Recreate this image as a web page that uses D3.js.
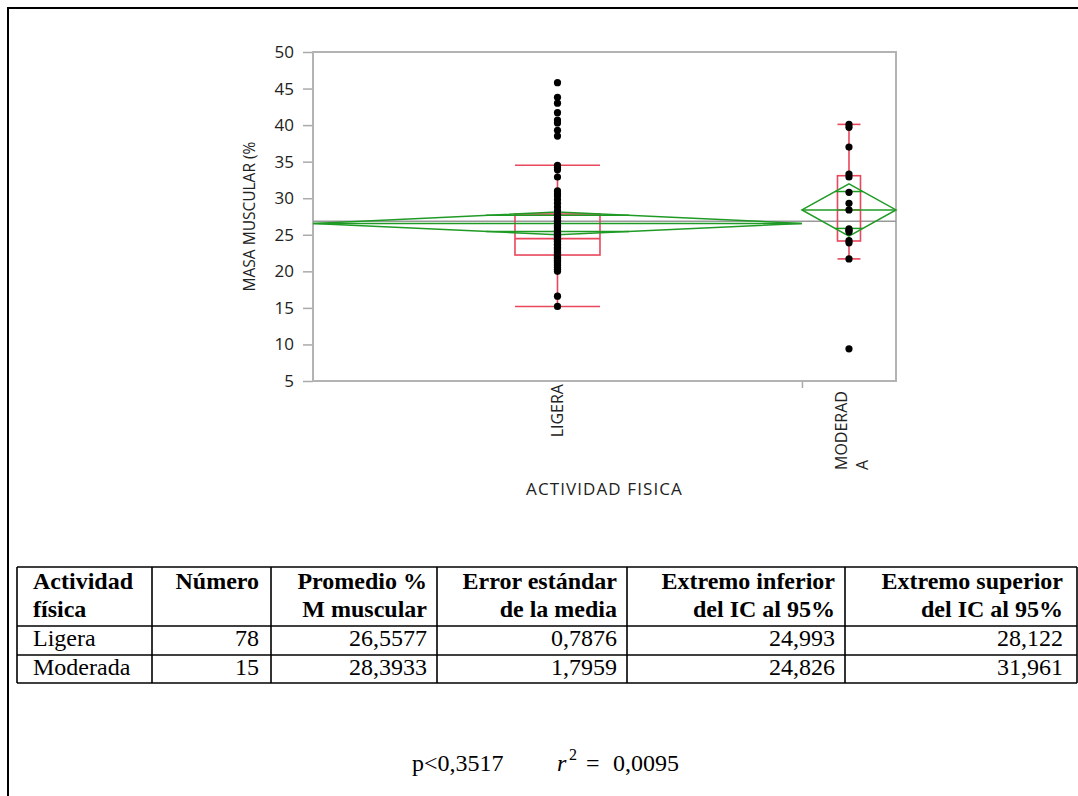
<!DOCTYPE html>
<html>
<head>
<meta charset="utf-8">
<script src="https://cdn.jsdelivr.net/npm/d3@7"></script>
<style>
  body { margin: 0; background: #fff; }
  svg { display: block; }
</style>
</head>
<body>
<svg id="chart" width="1078" height="796"></svg>
<script>
// ---------------- data ----------------
const categories = ["LIGERA", "MODERADA"];
const categoryLabelLines = [["LIGERA"], ["MODERAD", "A"]];
const tableNames = ["Ligera", "Moderada"];
const counts = [78, 15];

// individual observations, % muscle mass
const ligeraValues = [
  45.8, 43.8, 43.0, 41.7, 40.7, 40.3, 39.3, 38.5,
  34.5, 34.2, 33.9, 32.9,
  31.0, 30.6, 30.3, 29.8, 29.3, 28.8, 28.3,
  27.8, 27.6, 27.4, 27.2, 27.0, 26.8, 26.6, 26.5, 26.3, 26.1,
  26.0, 25.8, 25.6, 25.5, 25.3, 25.2, 25.0, 24.9, 24.8, 24.6,
  24.5, 24.4, 24.3, 24.2, 24.1, 24.0, 23.8, 23.7, 23.6, 23.5,
  23.3, 23.2, 23.1, 23.0, 22.8, 22.7, 22.6, 22.4, 22.3,
  22.2, 22.1, 22.0, 21.9, 21.8, 21.7, 21.5, 21.4, 21.3, 21.2,
  21.0, 20.9, 20.8, 20.6, 20.5, 20.3, 20.2, 20.0,
  16.6, 15.2
];
const moderadaValues = [
  40.1, 39.7, 37.0, 33.3, 32.9, 30.8, 29.3, 28.4,
  25.8, 25.6, 25.4, 24.2, 23.9, 21.7, 9.4
];
const groupValues = [ligeraValues, moderadaValues];

// summary statistics per group
const means = [26.5577, 28.3933];
const stdErrors = [0.7876, 1.7959];
const ciLower = [24.993, 24.826];
const ciUpper = [28.122, 31.961];

// quantile box statistics
const q1 = [22.23, 24.15];
const medians = [24.47, 28.40];
const q3 = [27.84, 33.08];
const whiskerLow = [15.2, 21.7];
const whiskerHigh = [34.5, 40.1];

const yTicks = [5, 10, 15, 20, 25, 30, 35, 40, 45, 50];

const tableHeaders = [
  ["Actividad", "física"],
  ["Número"],
  ["Promedio %", "M muscular"],
  ["Error estándar", "de la media"],
  ["Extremo inferior", "del IC al 95%"],
  ["Extremo superior", "del IC al 95%"]
];
const pValueText = "p<0,3517";
const r2Value = "0,0095";

// ---------------- layout ----------------
const svg = d3.select("#chart");
const W = 1078, H = 796;
const plot = { left: 313, right: 896, top: 52, bottom: 381 };
const axisFont = "'Open Sans', 'Noto Sans', sans-serif";
const serif = "'Liberation Serif', 'Times New Roman', serif";
const RED = "#e8475c";
const GREEN = "#1f9b25";
const TEXT = "#222";
const boxWidths = [85, 23];

svg.append("rect").attr("width", W).attr("height", H).attr("fill", "#fff");

// page frame (top and left rules)
svg.append("line").attr("x1", 7).attr("x2", W).attr("y1", 8).attr("y2", 8)
  .attr("stroke", "#000").attr("stroke-width", 2);
svg.append("line").attr("x1", 8).attr("x2", 8).attr("y1", 7).attr("y2", H)
  .attr("stroke", "#000").attr("stroke-width", 2);

// scales: group widths proportional to group sizes
const y = d3.scaleLinear().domain([5, 50]).range([plot.bottom, plot.top]);
const total = d3.sum(counts);
const xCum = d3.scaleLinear().domain([0, total]).range([plot.left, plot.right]);
const starts = d3.cumsum([0, ...counts]);
const groups = categories.map((c, i) => {
  const x0 = xCum(starts[i]), x1 = xCum(starts[i] + counts[i]);
  return { i, x0, x1, cx: (x0 + x1) / 2 };
});

// y axis
const yAxis = d3.axisLeft(y).tickValues(yTicks).tickSize(10).tickPadding(9);
const gy = svg.append("g").attr("transform", `translate(${plot.left},0)`).call(yAxis);
gy.select(".domain").remove();
gy.selectAll(".tick line").attr("stroke", "#aaa").attr("stroke-width", 1.5);
gy.selectAll(".tick text").attr("font-family", axisFont).attr("font-size", 17)
  .attr("fill", TEXT);

// x axis: a tick at each group boundary
const xAxis = d3.axisBottom(xCum).tickValues(starts.slice(1, -1)).tickSize(7).tickFormat("");
const gx = svg.append("g").attr("transform", `translate(0,${plot.bottom})`).call(xAxis);
gx.select(".domain").remove();
gx.selectAll(".tick line").attr("stroke", "#aaa").attr("stroke-width", 1.5);

// frame of plot
svg.append("rect")
  .attr("x", plot.left).attr("y", plot.top)
  .attr("width", plot.right - plot.left).attr("height", plot.bottom - plot.top)
  .attr("fill", "none").attr("stroke", "#b3b3b3").attr("stroke-width", 2);

// grand mean
const grandMean = d3.sum(means.map((m, i) => m * counts[i])) / total;
svg.append("line")
  .attr("x1", plot.left).attr("x2", plot.right)
  .attr("y1", y(grandMean)).attr("y2", y(grandMean))
  .attr("stroke", "#999").attr("stroke-width", 1.5);

// quantile boxes
const boxG = svg.append("g").attr("fill", "none").attr("stroke", RED).attr("stroke-width", 1.6);
groups.forEach(g => {
  const i = g.i, bw = boxWidths[i], bx = g.cx - bw / 2;
  boxG.append("rect").attr("x", bx).attr("y", y(q3[i]))
    .attr("width", bw).attr("height", y(q1[i]) - y(q3[i]));
  boxG.append("line").attr("x1", bx).attr("x2", bx + bw)
    .attr("y1", y(medians[i])).attr("y2", y(medians[i]));
  boxG.append("line").attr("x1", g.cx).attr("x2", g.cx)
    .attr("y1", y(whiskerHigh[i])).attr("y2", y(q3[i]));
  boxG.append("line").attr("x1", g.cx).attr("x2", g.cx)
    .attr("y1", y(q1[i])).attr("y2", y(whiskerLow[i]));
  [whiskerHigh[i], whiskerLow[i]].forEach(v => {
    boxG.append("line").attr("x1", bx).attr("x2", bx + bw)
      .attr("y1", y(v)).attr("y2", y(v));
  });
});

// means diamonds with overlap marks
const diaG = svg.append("g").attr("fill", "none").attr("stroke", GREEN).attr("stroke-width", 1.5);
groups.forEach(g => {
  const i = g.i;
  const ym = y(means[i]);
  diaG.append("path").attr("d",
    `M${g.x0},${ym}L${g.cx},${y(ciUpper[i])}L${g.x1},${ym}L${g.cx},${y(ciLower[i])}Z`);
  diaG.append("line").attr("x1", g.x0).attr("x2", g.x1).attr("y1", ym).attr("y2", ym);
  const half = (ciUpper[i] - means[i]) / Math.SQRT2;
  const frac = 1 - 1 / Math.SQRT2;
  const hw = (g.x1 - g.x0) / 2 * frac;
  [means[i] + half, means[i] - half].forEach(v => {
    diaG.append("line").attr("x1", g.cx - hw).attr("x2", g.cx + hw)
      .attr("y1", y(v)).attr("y2", y(v));
  });
});

// observations
const ptG = svg.append("g").attr("fill", "#000");
groups.forEach(g => {
  ptG.selectAll(null).data(groupValues[g.i]).join("circle")
    .attr("cx", g.cx).attr("cy", d => y(d)).attr("r", 3.6);
});

// category labels (rotated, wrapped)
const labelAnchors = [
  { y: 384, anchor: "end", dx: 6 },
  { y: 470, anchor: "start", dx: -2 }
];
groups.forEach(g => {
  const lines = categoryLabelLines[g.i];
  const la = labelAnchors[g.i];
  lines.forEach((t, k) => {
    const lx = g.cx + la.dx + k * 21;
    svg.append("text")
      .attr("transform", `translate(${lx},${la.y}) rotate(-90)`)
      .attr("text-anchor", la.anchor)
      .attr("font-family", axisFont).attr("font-size", 16).attr("fill", TEXT)
      .text(t);
  });
});

// axis titles
svg.append("text")
  .attr("x", (plot.left + plot.right) / 2).attr("y", 495)
  .attr("text-anchor", "middle")
  .attr("font-family", axisFont).attr("font-size", 17).attr("letter-spacing", 1.1)
  .attr("fill", TEXT)
  .text("ACTIVIDAD FISICA");
svg.append("text")
  .attr("transform", `translate(255,${(plot.top + plot.bottom) / 2}) rotate(-90)`)
  .attr("text-anchor", "middle")
  .attr("font-family", axisFont).attr("font-size", 15.5).attr("fill", TEXT)
  .text("MASA MUSCULAR (%");

// ---------------- summary table ----------------
const colX = [17, 152, 271, 437, 627, 845, 1077];
const rowY = [567, 626, 655, 683];
const tg = svg.append("g");
const lineAttrs = sel => sel.attr("stroke", "#000").attr("stroke-width", 1.6);
colX.forEach(x => lineAttrs(tg.append("line").attr("x1", x).attr("x2", x)
  .attr("y1", rowY[0]).attr("y2", rowY[rowY.length - 1])));
rowY.forEach(yy => lineAttrs(tg.append("line").attr("x1", colX[0]).attr("x2", colX[colX.length - 1])
  .attr("y1", yy).attr("y2", yy)));

const fmt = (v, d) => v.toFixed(d).replace(".", ",");
const pads = [0, 12, 10, 10, 10, 14];
tableHeaders.forEach((lines, c) => {
  lines.forEach((t, k) => {
    const left = c === 0;
    tg.append("text")
      .attr("x", left ? colX[c] + 16 : colX[c + 1] - pads[c])
      .attr("y", 589 + k * 28)
      .attr("text-anchor", left ? "start" : "end")
      .attr("font-family", serif).attr("font-size", 24).attr("font-weight", "bold")
      .attr("fill", "#000")
      .text(t);
  });
});
const rowBase = [646, 675];
tableNames.forEach((name, r) => {
  const cells = [
    name,
    String(counts[r]),
    fmt(means[r], 4),
    fmt(stdErrors[r], 4),
    fmt(ciLower[r], 3),
    fmt(ciUpper[r], 3)
  ];
  cells.forEach((t, c) => {
    const left = c === 0;
    tg.append("text")
      .attr("x", left ? colX[c] + 16 : colX[c + 1] - pads[c])
      .attr("y", rowBase[r])
      .attr("text-anchor", left ? "start" : "end")
      .attr("font-family", serif).attr("font-size", 24)
      .attr("fill", "#000")
      .text(t);
  });
});

// ---------------- test statistics ----------------
svg.append("text")
  .attr("x", 412).attr("y", 771)
  .attr("font-family", serif).attr("font-size", 24).attr("fill", "#000")
  .text(pValueText);
const r2 = svg.append("text")
  .attr("y", 771)
  .attr("font-family", serif).attr("font-size", 24).attr("fill", "#000");
r2.append("tspan").attr("x", 557).attr("font-style", "italic").text("r");
r2.append("tspan").attr("x", 569).attr("y", 760).attr("font-size", 16).text("2");
r2.append("tspan").attr("x", 586).attr("y", 771).text("=");
r2.append("tspan").attr("x", 613).text(r2Value);
</script>
</body>
</html>
